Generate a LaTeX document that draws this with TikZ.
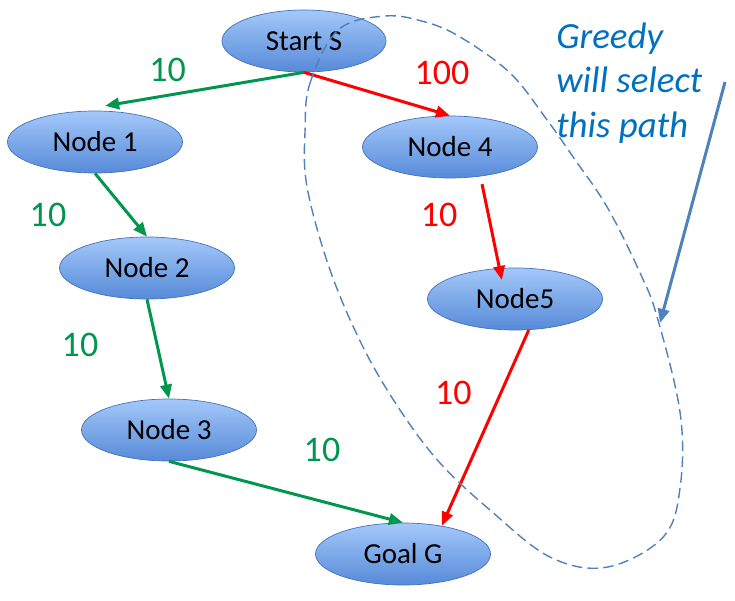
\documentclass[tikz,border=0pt]{standalone}
\usepackage{fontspec}
\setmainfont{Carlito}
\usetikzlibrary{positioning,shapes.geometric,arrows.meta}

\definecolor{nodetop}{RGB}{164,200,250}
\definecolor{nodebot}{RGB}{86,138,216}
\definecolor{nodeline}{RGB}{68,114,186}
\definecolor{edgegreen}{RGB}{0,150,78}
\definecolor{notecol}{RGB}{0,112,192}
\definecolor{hintcol}{RGB}{79,129,189}

\begin{document}
\begin{tikzpicture}[on grid,
    state/.style={ellipse, draw=nodeline, top color=nodetop, bottom color=nodebot,
        minimum width=3.5cm, minimum height=1.24cm, inner sep=0pt,
        font=\fontsize{16.5}{19}\selectfont},
    tip/.style={-{Triangle[length=8pt,width=6.5pt]}, line width=1.7pt},
    green edge/.style={tip, draw=edgegreen},
    red edge/.style={tip, draw=red},
    weight/.style={inner sep=0pt, font=\fontsize{20.5}{24}\selectfont}]
    \useasboundingbox (0,0) rectangle (14.7,-12.02);
    \node[state, minimum width=3.28cm] (start) at (6.08,-0.82) {Start S};
    \node[state, below left=2.02cm and 4.18cm of start] (n1) {Node 1};
    \node[state, below right=2.12cm and 2.92cm of start] (n4) {Node 4};
    \node[state, below right=2.52cm and 1.04cm of n1] (n2) {Node 2};
    \node[state, below right=3.24cm and 0.44cm of n2] (n3) {Node 3};
    \node[state, below right=3.04cm and 1.3cm of n4] (n5) {Node5};
    \node[state, below right=2.48cm and 4.68cm of n3] (goal) {Goal G};
    % cheap path on the left
    \draw[green edge] (start.south) -- ([yshift=0.1cm]n1.72)
        node[weight, text=edgegreen, midway, shift={(-0.74,0.38)}] (w1) {10};
    \draw[green edge] (n1.south) -- (n2.north)
        node[weight, text=edgegreen, midway, shift={(-1.46,-0.2)}] (w2) {10};
    \draw[green edge] (n2.south) -- (n3.north)
        node[weight, text=edgegreen, midway, shift={(-1.56,0.08)}] (w3) {10};
    \draw[green edge] (n3.south) -- (goal.north)
        node[weight, text=edgegreen, midway, shift={(0.72,0.84)}] (w4) {10};
    % greedy path on the right
    \draw[red edge] (start.south) -- (n4.north)
        node[weight, text=red, midway, shift={(1.3,0.42)}] (w5) {100};
    \draw[red edge, shorten <=4.5pt] (n4.-44) -- ([yshift=-0.24cm]n5.113)
        node[weight, text=red, midway, shift={(-1.04,0.26)}] (w6) {10};
    \draw[red edge] (n5.-66) -- (goal.36)
        node[weight, text=red, midway, shift={(-0.64,0.7)}] (w7) {10};
    \begin{scope}[x=0.02cm, y=-0.02cm]
        \draw[hintcol, line width=0.8pt, dash pattern=on 6pt off 3pt]
            plot[smooth cycle, tension=0.6] coordinates {(305,130) (310,83) (338,30)
            (385,16) (425,22) (460,37) (510,73) (547,120) (573,157) (607,207)
            (640,273) (657,317) (680,413) (680,487) (663,537) (607,567) (550,557)
            (490,510) (440,463) (400,410) (363,347) (330,270) (307,187)};
    \end{scope}
    \node[anchor=north west, align=left, inner sep=0pt, text=notecol,
        font=\fontsize{21}{25.2}\selectfont\itshape] (note) at (11.12,-0.45)
        {Greedy\\will select\\this path};
    \coordinate (hint tail) at (14.5,-1.64);
    \coordinate (hint head) at (13.2,-6.46);
    \draw[tip, hintcol] (hint tail) -- (hint head);
\end{tikzpicture}
\end{document}
